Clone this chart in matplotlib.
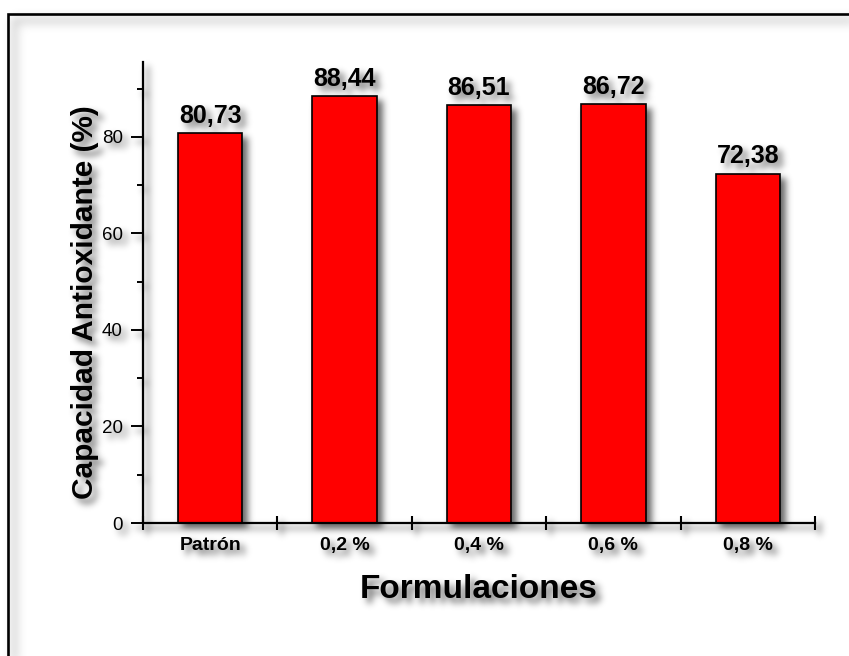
import numpy as np
import matplotlib
matplotlib.use("Agg")
import matplotlib.pyplot as plt
from matplotlib.patches import Rectangle

# Antioxidant capacity per formulation
categories = ["Patrón", "0,2 %", "0,4 %", "0,6 %", "0,8 %"]
values = [80.73, 88.44, 86.51, 86.72, 72.38]
value_labels = ["80,73", "88,44", "86,51", "86,72", "72,38"]
y_major = [0, 20, 40, 60, 80]
y_minor = [10, 30, 50, 70, 90]

plt.rcParams["font.family"] = ["Liberation Sans", "DejaVu Sans"]


def _blur1d(a, w, axis):
    r = len(w) // 2
    pad = [(0, 0), (0, 0)]
    pad[axis] = (r, r)
    p = np.pad(a, pad)
    n = a.shape[axis]
    out = np.zeros_like(a)
    for i, wi in enumerate(w):
        sl = [slice(None), slice(None)]
        sl[axis] = slice(i, i + n)
        out += wi * p[tuple(sl)]
    return out


def _gauss(a, sigma):
    r = max(1, int(3 * sigma))
    x = np.arange(-r, r + 1)
    w = np.exp(-0.5 * (x / sigma) ** 2)
    w /= w.sum()
    return _blur1d(_blur1d(a, w, 0), w, 1)


class DropShadow:
    """agg filter: soft drop shadow composited under the drawn content."""

    def __init__(self, dx=5, dy=5, sigma=3.0, alpha=0.55, color=(0.0, 0.0, 0.0)):
        self.dx, self.dy = dx, dy
        self.sigma = sigma
        self.alpha = alpha
        self.color = np.array(color, dtype=float)
        self.pad = int(max(dx, dy) + 3 * sigma + 2)

    def __call__(self, im, dpi):
        p = self.pad
        h, w = im.shape[:2]
        big = np.zeros((h + 2 * p, w + 2 * p, 4))
        big[p:p + h, p:p + w] = im
        sa = np.zeros((h + 2 * p, w + 2 * p))
        sa[p + self.dy:p + self.dy + h, p + self.dx:p + self.dx + w] = im[..., 3]
        sa = np.clip(_gauss(sa, self.sigma) * self.alpha, 0, 1)
        oa = big[..., 3]
        out_a = oa + sa * (1 - oa)
        rgb = (big[..., :3] * oa[..., None]
               + self.color[None, None, :] * (sa * (1 - oa))[..., None])
        rgb = rgb / np.maximum(out_a[..., None], 1e-6)
        out = np.dstack([np.clip(rgb, 0, 1), np.clip(out_a, 0, 1)])
        return out, -p, -p


W, H = 849, 656
fig = plt.figure(figsize=(W / 100, H / 100), dpi=100)
fig.patch.set_facecolor("white")

# outer frame
frame = Rectangle((8 / W, -0.1), 1.2, (1 - 14 / H) + 0.1, transform=fig.transFigure,
                  fill=False, edgecolor="black", linewidth=1.9)
frame.set_agg_filter(DropShadow(dx=6, dy=6, sigma=5.0, alpha=0.45))
fig.add_artist(frame)

ax = fig.add_axes([143 / W, 1 - 523 / H, 672 / W, 461 / H])
ax.patch.set_visible(False)
ax.set_agg_filter(DropShadow(dx=5, dy=5, sigma=3.5, alpha=0.6))

x = np.arange(len(categories))
ax.bar(x, values, width=0.48, color="#ff0000", edgecolor="black", linewidth=1.2, zorder=2)

for xi, v, lab in zip(x, values, value_labels):
    ax.annotate(lab, (xi, v), xytext=(0, 4), textcoords="offset points",
                ha="center", va="bottom", fontsize=18, fontweight="bold")

ax.set_xlim(-0.5, len(categories) - 0.5)
ax.set_ylim(0, 95.5)

for side in ("top", "right"):
    ax.spines[side].set_visible(False)
for side in ("left", "bottom"):
    ax.spines[side].set_linewidth(1.6)

# x axis: ticks at category boundaries, labels at centres
ax.set_xticks(np.arange(-0.5, len(categories), 1.0))
ax.set_xticklabels([])
ax.set_xticks(x, minor=True)
ax.set_xticklabels(categories, minor=True, fontsize=14, fontweight="bold")
ax.tick_params(axis="x", which="major", direction="inout", length=10, width=1.5)
ax.tick_params(axis="x", which="minor", length=0, pad=10)

ax.set_yticks(y_major)
ax.set_yticks(y_minor, minor=True)
ax.tick_params(axis="y", which="major", direction="out", length=8.6, width=1.4,
               labelsize=13.5, pad=6)
ax.tick_params(axis="y", which="minor", direction="out", length=4.3, width=1.4)

ax.set_xlabel("Formulaciones", fontsize=24, fontweight="bold")
ax.xaxis.set_label_coords(0.5, -0.11)
ax.set_ylabel("Capacidad Antioxidante (%)", fontsize=21.5, fontweight="bold")
ax.yaxis.set_label_coords(-0.066, 0.479)

fig.savefig("out.png", dpi=100, facecolor="white")
